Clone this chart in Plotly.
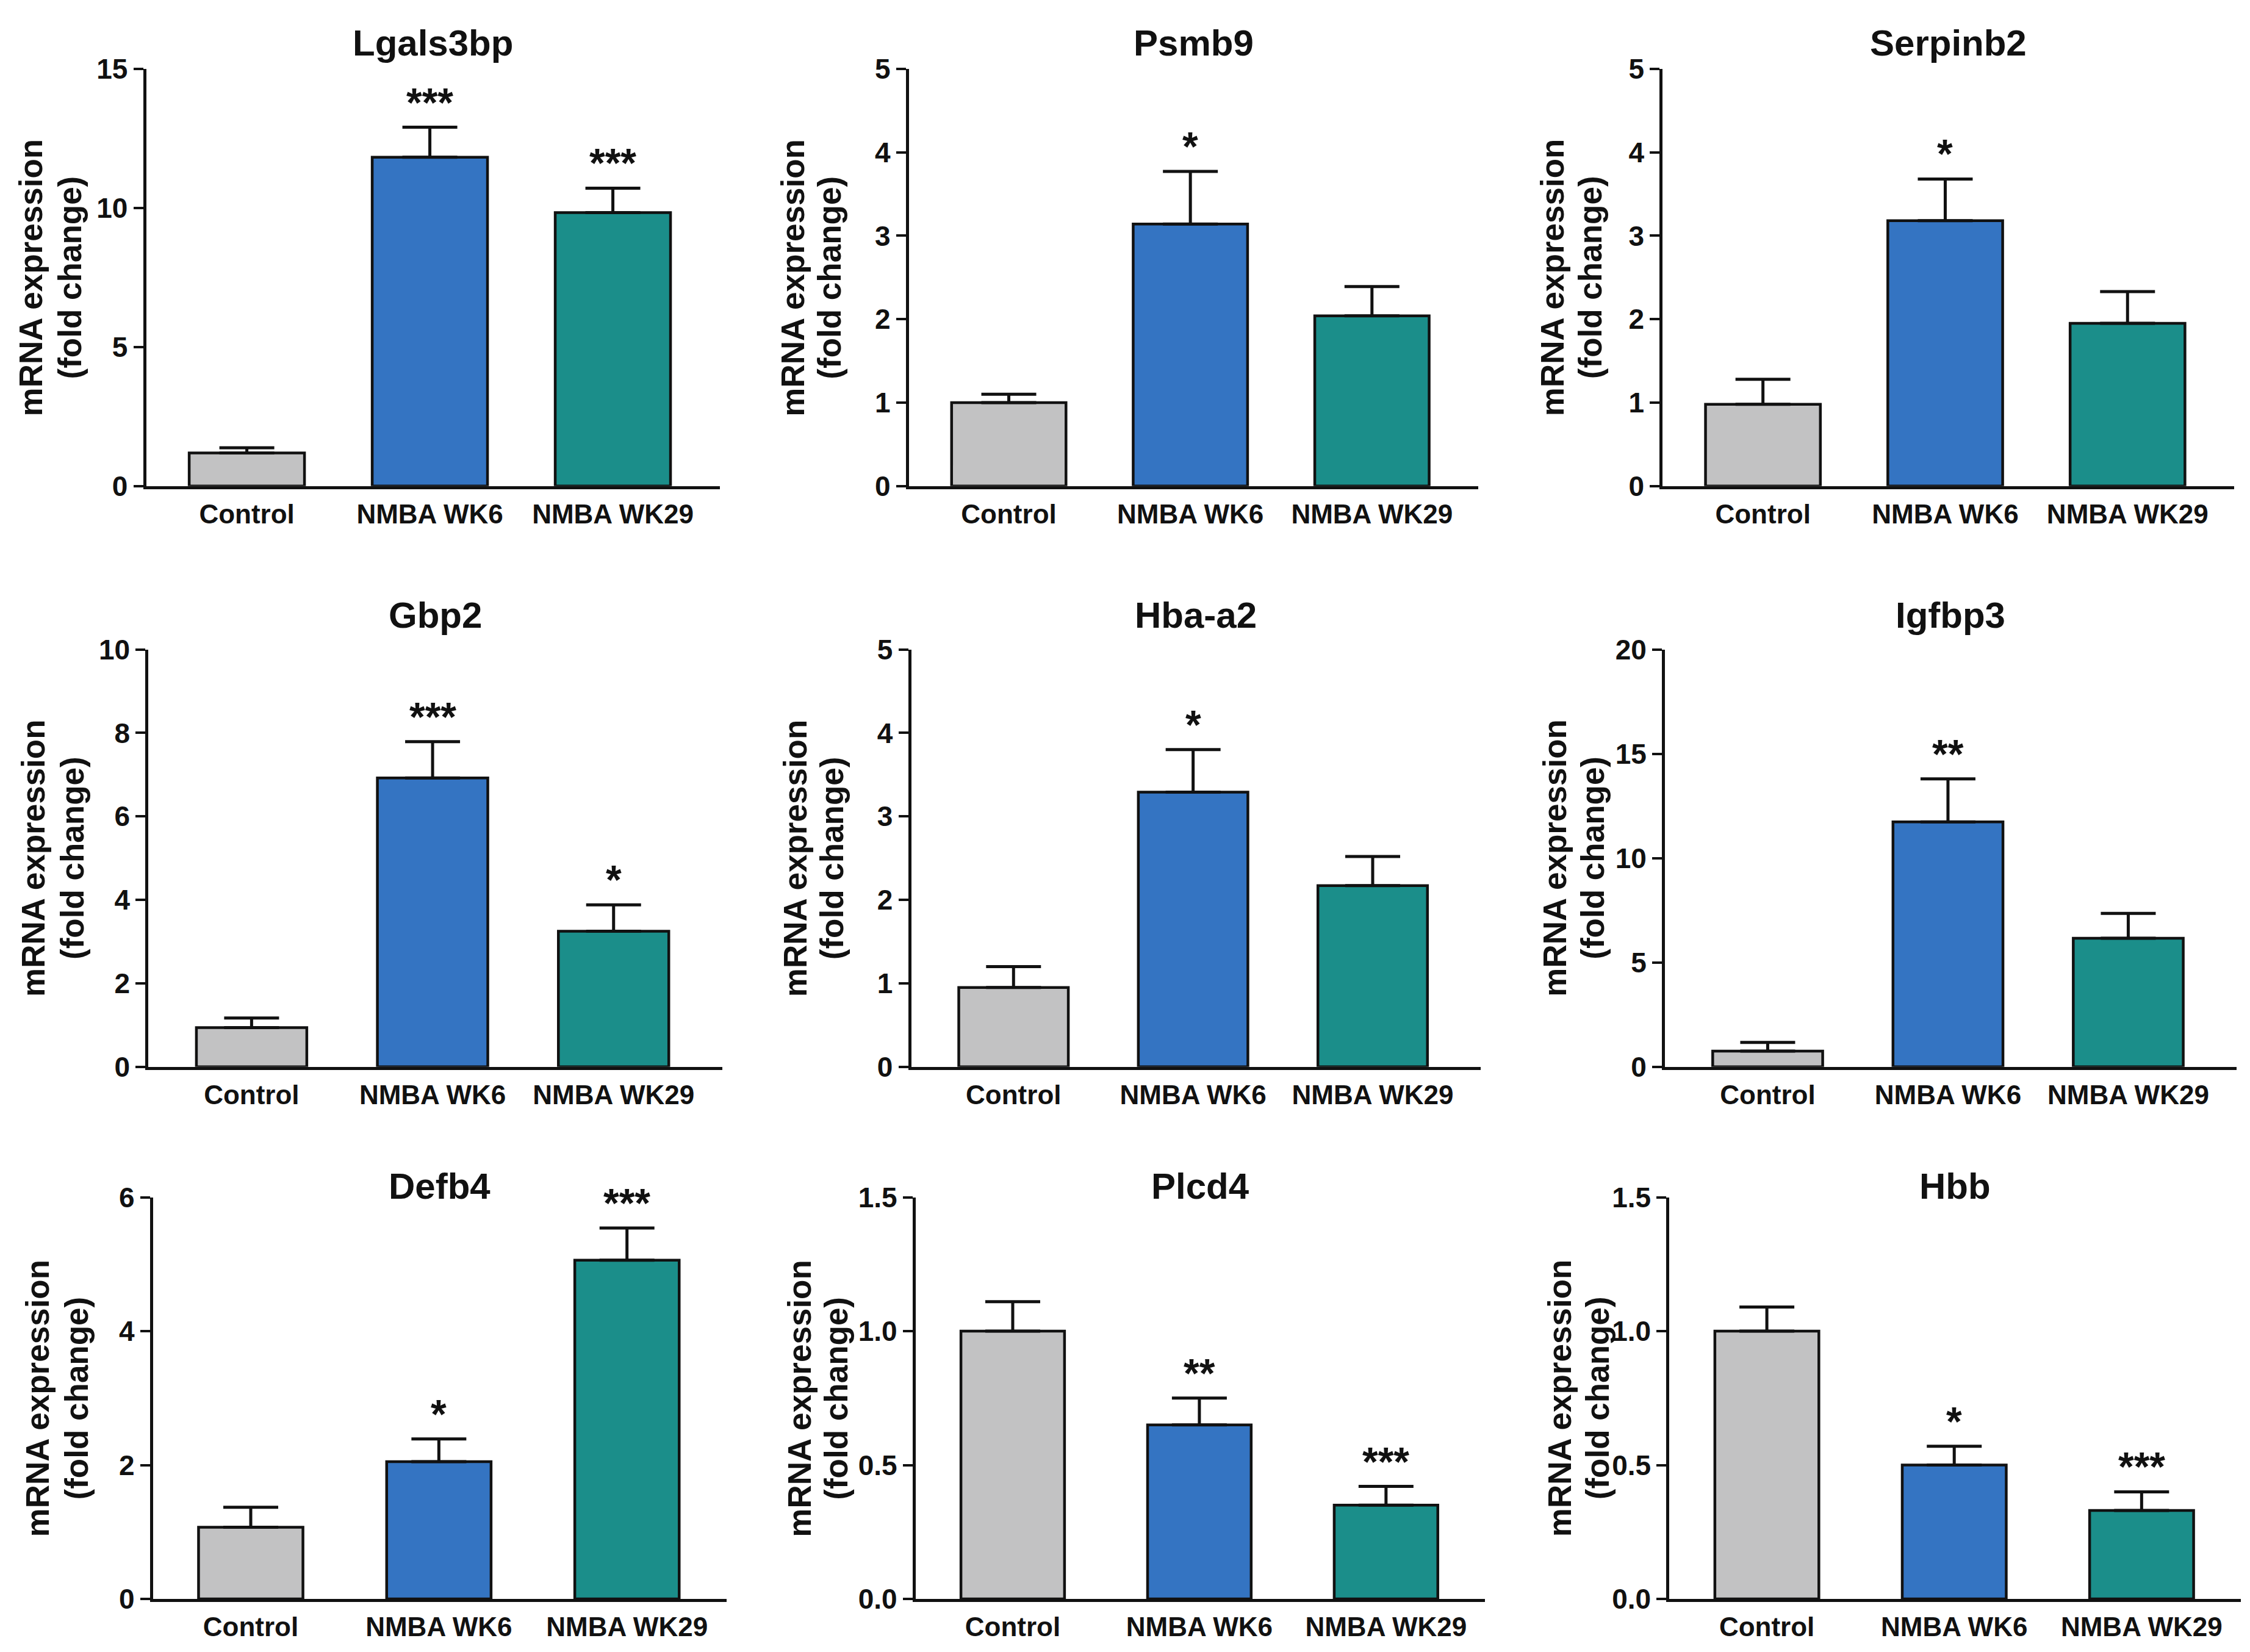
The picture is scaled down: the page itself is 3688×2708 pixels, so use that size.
import plotly.graph_objects as go

# groups on the x axis and the panel titles
groups = ["Control", "NMBA WK6", "NMBA WK29"]
genes = ["Lgals3bp", "Psmb9", "Serpinb2", "Gbp2", "Hba-a2", "Igfbp3", "Defb4", "Plcd4", "Hbb"]

# mean fold change and SEM (upper error) for each gene
lgals3bp_mean = [1.19, 11.82, 9.83]
lgals3bp_sem = [0.19, 1.08, 0.88]
psmb9_mean = [1.0, 3.14, 2.04]
psmb9_sem = [0.10, 0.63, 0.35]
serpinb2_mean = [0.98, 3.18, 1.95]
serpinb2_sem = [0.30, 0.50, 0.38]
gbp2_mean = [0.94, 6.92, 3.25]
gbp2_sem = [0.23, 0.87, 0.63]
hba_a2_mean = [0.95, 3.29, 2.17]
hba_a2_sem = [0.25, 0.51, 0.35]
igfbp3_mean = [0.75, 11.74, 6.16]
igfbp3_sem = [0.42, 2.06, 1.19]
defb4_mean = [1.07, 2.05, 5.06]
defb4_sem = [0.30, 0.34, 0.48]
plcd4_mean = [1.0, 0.65, 0.35]
plcd4_sem = [0.11, 0.10, 0.07]
hbb_mean = [1.0, 0.50, 0.33]
hbb_sem = [0.09, 0.07, 0.07]

# significance marks above the bars
lgals3bp_sig = ["", "***", "***"]
psmb9_sig = ["", "*", ""]
serpinb2_sig = ["", "*", ""]
gbp2_sig = ["", "***", "*"]
hba_a2_sig = ["", "*", ""]
igfbp3_sig = ["", "**", ""]
defb4_sig = ["", "*", "***"]
plcd4_sig = ["", "**", "***"]
hbb_sig = ["", "*", "***"]

# y axis top and tick step per panel
y_max = [15, 5, 5, 10, 5, 20, 6, 1.5, 1.5]
y_step = [5, 1, 1, 2, 1, 5, 2, 0.5, 0.5]

means = [lgals3bp_mean, psmb9_mean, serpinb2_mean, gbp2_mean, hba_a2_mean,
         igfbp3_mean, defb4_mean, plcd4_mean, hbb_mean]
sems = [lgals3bp_sem, psmb9_sem, serpinb2_sem, gbp2_sem, hba_a2_sem,
        igfbp3_sem, defb4_sem, plcd4_sem, hbb_sem]
sigs = [lgals3bp_sig, psmb9_sig, serpinb2_sig, gbp2_sig, hba_a2_sig,
        igfbp3_sig, defb4_sig, plcd4_sig, hbb_sig]

bar_colors = ["#C2C2C3", "#3474C2", "#1B8E8A"]

# layout of the 3x3 grid (paper fractions); the page body adds an 8px offset,
# so the domains are nudged up/left to compensate
dx, dy = -0.0022, 0.003
col_domains = [[0.065, 0.320], [0.404, 0.657], [0.739, 0.993]]
row_domains = [[0.7057, 0.9583], [0.3542, 0.6068], [0.0321, 0.2752]]
row_x_offset = [0.0, 0.001, 0.003]
row_bar_width = [0.63, 0.61, 0.555]
row_x_range = [[-0.55, 2.585], [-0.57, 2.60], [-0.52, 2.53]]
row_title_shift = [42, 56, 18]
# pixel offsets of the two y-title lines from the y axis, per column
col_ytitle_shift = [(-189, -125), (-190, -130), (-180, -118)]

FONT = "Liberation Sans, Arial, Helvetica, sans-serif"
INK = "#111111"

fig = go.Figure()
annotations = []

for i, gene in enumerate(genes):
    n = i + 1
    row, col = divmod(i, 3)
    xa = "x" if n == 1 else f"x{n}"
    ya = "y" if n == 1 else f"y{n}"
    xdom = [v + dx + row_x_offset[row] for v in col_domains[col]]
    ydom = [v + dy for v in row_domains[row]]

    fig.add_trace(go.Bar(
        x=groups, y=means[i],
        xaxis=xa, yaxis=ya,
        width=row_bar_width[row],
        marker=dict(color=bar_colors, line=dict(color=INK, width=4.5)),
        error_y=dict(type="data", symmetric=False, array=sems[i],
                     arrayminus=[0, 0, 0], color=INK, thickness=5, width=45),
        showlegend=False,
        hoverinfo="x+y",
    ))

    tickfmt = ".1f" if y_step[i] < 1 else "d"
    fig.layout[f"xaxis{'' if n == 1 else n}"] = dict(
        domain=xdom, anchor=ya, automargin=False,
        range=row_x_range[row], showline=True, linewidth=5, linecolor=INK,
        ticks="", showgrid=False, zeroline=False, fixedrange=True,
        tickfont=dict(family=FONT, size=44, color=INK, weight="bold"),
        ticklabelstandoff=3,
    )
    fig.layout[f"yaxis{'' if n == 1 else n}"] = dict(
        domain=ydom, anchor=xa, automargin=False,
        range=[0, y_max[i]], dtick=y_step[i], tick0=0, tickformat=tickfmt,
        showline=True, linewidth=5, linecolor=INK,
        ticks="outside", ticklen=16, tickwidth=4, tickcolor=INK,
        showgrid=False, zeroline=False, fixedrange=True,
        tickfont=dict(family=FONT, size=46, color=INK, weight="bold"),
    )

    # panel title
    annotations.append(dict(
        text=gene, xref=f"{xa} domain", yref=f"{ya} domain", x=0.5, y=1,
        xanchor="center", yanchor="middle", yshift=row_title_shift[row],
        showarrow=False, font=dict(family=FONT, size=60, color=INK, weight="bold"),
    ))
    # y axis title, two lines
    shift1, shift2 = col_ytitle_shift[col]
    annotations.append(dict(
        text="mRNA expression", xref=f"{xa} domain", yref=f"{ya} domain",
        x=0, y=0.5, xanchor="center", yanchor="middle", xshift=shift1, textangle=-90,
        showarrow=False, font=dict(family=FONT, size=53, color=INK, weight="bold"),
    ))
    annotations.append(dict(
        text="(fold change)", xref=f"{xa} domain", yref=f"{ya} domain",
        x=0, y=0.5, xanchor="center", yanchor="middle", xshift=shift2, textangle=-90,
        showarrow=False, font=dict(family=FONT, size=53, color=INK, weight="bold"),
    ))
    # significance stars
    for g, m, s, mark in zip(groups, means[i], sems[i], sigs[i]):
        if mark:
            annotations.append(dict(
                text=mark, xref=xa, yref=ya, x=g, y=m + s,
                xanchor="center", yanchor="bottom", yshift=2, showarrow=False,
                font=dict(family=FONT, size=66, color=INK, weight="bold"),
            ))

fig.update_layout(
    width=3688, height=2708,
    margin=dict(l=0, r=0, t=0, b=0, autoexpand=False),
    paper_bgcolor="white", plot_bgcolor="white",
    annotations=annotations,
    showlegend=False,
)

fig.write_html("out.html")
